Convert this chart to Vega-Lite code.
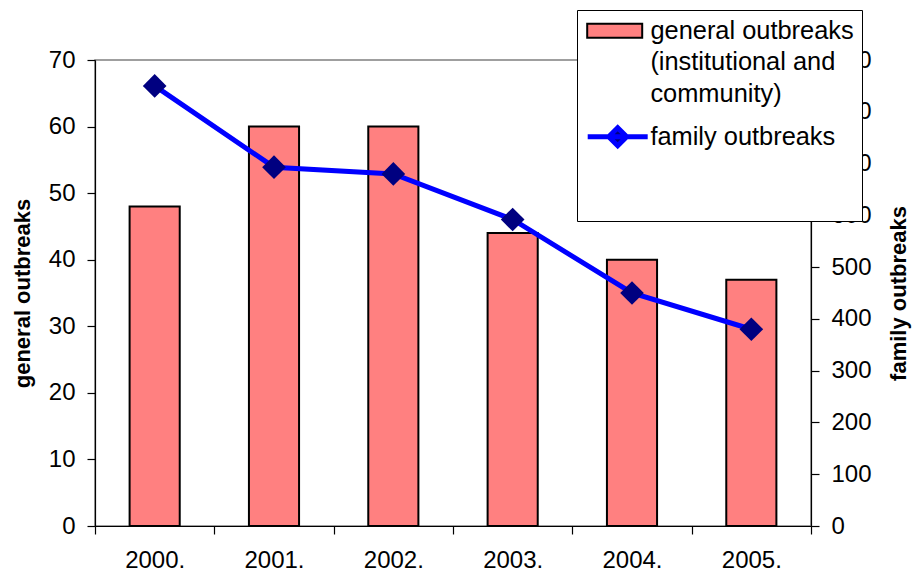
{
  "$schema": "https://vega.github.io/schema/vega-lite/v6.json",
  "width": 716,
  "height": 466,
  "autosize": {"type": "none"},
  "padding": {"left": 95, "top": 60, "right": 104, "bottom": 55},
  "background": "white",
  "config": {
    "font": "Liberation Sans",
    "view": {"stroke": "#808080", "strokeWidth": 1.5},
    "style": {"guide-label": {"lineHeight": 31.5}},
    "axis": {
      "domainColor": "black",
      "domainWidth": 1.2,
      "tickColor": "black",
      "tickWidth": 1.2,
      "tickSize": 8,
      "labelColor": "black",
      "labelFont": "Liberation Sans",
      "labelFontSize": 24,
      "labelPadding": 12,
      "titleColor": "black",
      "titleFont": "Liberation Sans",
      "titleFontSize": 22,
      "titleFontWeight": "bold",
      "grid": false
    },
    "legend": {"labelFont": "Liberation Sans", "labelFontSize": 25.4, "labelColor": "black", "labelLimit": 400}
  },
  "data": {
    "values": [
      {"year": "2000.", "series": "general outbreaks (institutional and community)", "value": 48},
      {"year": "2001.", "series": "general outbreaks (institutional and community)", "value": 60},
      {"year": "2002.", "series": "general outbreaks (institutional and community)", "value": 60},
      {"year": "2003.", "series": "general outbreaks (institutional and community)", "value": 44},
      {"year": "2004.", "series": "general outbreaks (institutional and community)", "value": 40},
      {"year": "2005.", "series": "general outbreaks (institutional and community)", "value": 37},
      {"year": "2000.", "series": "family outbreaks", "value": 850},
      {"year": "2001.", "series": "family outbreaks", "value": 693},
      {"year": "2002.", "series": "family outbreaks", "value": 680},
      {"year": "2003.", "series": "family outbreaks", "value": 592},
      {"year": "2004.", "series": "family outbreaks", "value": 450},
      {"year": "2005.", "series": "family outbreaks", "value": 380}
    ]
  },
  "encoding": {
    "x": {
      "field": "year",
      "type": "ordinal",
      "sort": null,
      "title": null,
      "scale": {"paddingInner": 0, "paddingOuter": 0},
      "axis": {"labelAngle": 0, "tickBand": "extent", "labelPadding": 14}
    }
  },
  "layer": [
    {
      "transform": [{"filter": "datum.series != 'family outbreaks'"}],
      "mark": {"type": "bar", "width": {"band": 0.42}, "stroke": "black", "strokeWidth": 2},
      "encoding": {
        "y": {
          "field": "value",
          "type": "quantitative",
          "scale": {"domain": [0, 70], "nice": false},
          "axis": {"values": [0, 10, 20, 30, 40, 50, 60, 70], "title": "general outbreaks", "titlePadding": 14}
        },
        "fill": {
          "field": "series",
          "type": "nominal",
          "scale": {"domain": ["general outbreaks (institutional and community)"], "range": ["#FF8080"]},
          "legend": {
            "orient": "none",
            "legendX": 482,
            "legendY": -50,
            "zindex": 5,
            "title": " ",
            "titleOrient": "bottom",
            "titleFontSize": 103,
            "titlePadding": 4,
            "padding": 8,
            "fillColor": "white",
            "strokeColor": "black",
            "symbolType": "M-1.05,-0.7H4.45V0.7H-1.05Z",
            "symbolSize": 400,
            "symbolStrokeWidth": 2,
            "labelOffset": 40,
            "labelExpr": "['general outbreaks', '(institutional and', 'community)']"
          }
        }
      }
    },
    {
      "transform": [{"filter": "datum.series == 'family outbreaks'"}],
      "encoding": {
        "y": {
          "field": "value",
          "type": "quantitative",
          "scale": {"domain": [0, 900], "nice": false},
          "axis": {
            "orient": "right",
            "values": [0, 100, 200, 300, 400, 500, 600, 700, 800, 900],
            "title": "family outbreaks",
            "titleAngle": 270,
            "titlePadding": 39
          }
        }
      },
      "layer": [
        {
          "mark": {"type": "line", "strokeWidth": 5},
          "encoding": {
            "stroke": {
              "field": "series",
              "type": "nominal",
              "scale": {"domain": ["family outbreaks"], "range": ["#0000FF"]},
              "legend": {
                "orient": "none",
                "legendX": 490,
                "legendY": 64,
                "zindex": 6,
                "title": null,
                "padding": 0,
                "symbolType": "M-1,0H5M2,-0.9L2.9,0L2,0.9L1.1,0Z",
                "symbolSize": 400,
                "symbolFillColor": "#000080",
                "symbolStrokeWidth": 5,
                "labelOffset": 40
              }
            }
          }
        },
        {
          "mark": {"type": "point", "shape": "diamond", "filled": true, "fill": "#000080", "size": 560, "opacity": 1}
        }
      ]
    }
  ],
  "resolve": {"scale": {"y": "independent"}}
}
